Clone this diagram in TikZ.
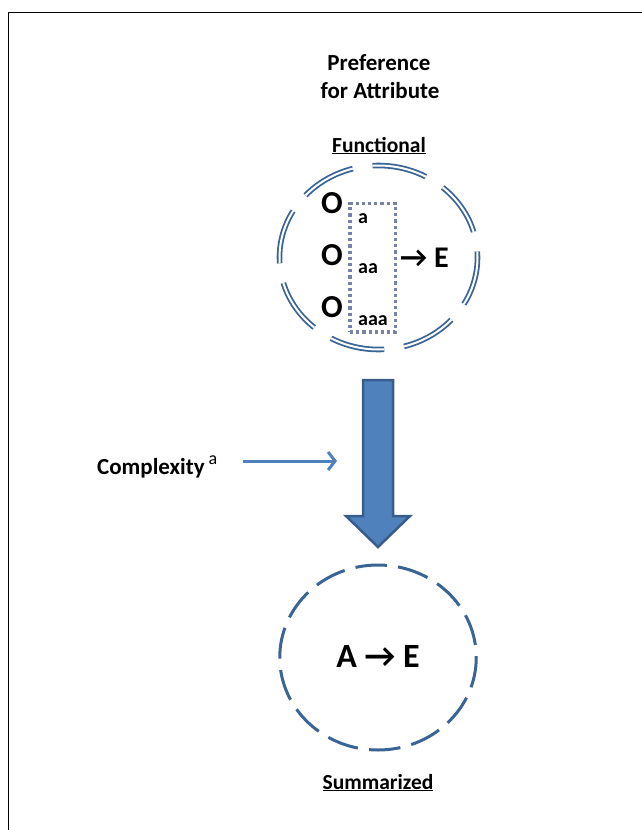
\documentclass[tikz,border=0pt]{standalone}
\usepackage{fontspec}
\setmainfont{Carlito}
\usetikzlibrary{positioning, arrows.meta, shapes.geometric}

\definecolor{ringblue}{HTML}{3B6496}
\definecolor{fillblue}{HTML}{4F81BD}
\definecolor{edgeblue}{HTML}{385D8A}
\definecolor{dotgray}{HTML}{7683A6}

\begin{document}
\begin{tikzpicture}[x=1pt, y=-1pt,
    txt/.style={font=\fontsize{23}{27}\selectfont\bfseries, inner sep=0pt},
    headtxt/.style={font=\fontsize{21.5}{25}\selectfont\bfseries, inner sep=0pt},
    bigtxt/.style={font=\fontsize{30}{34}\selectfont\bfseries, inner sep=0pt},
    otxt/.style={font=\fontsize{32}{36}\selectfont\bfseries, inner sep=0pt},
    subtxt/.style={font=\fontsize{20}{24}\selectfont\bfseries, inner sep=0pt},
    ring/.style={ellipse, inner sep=0pt, draw=ringblue},
    feed/.style={-{Straight Barb[length=7pt, width=18pt]}, line width=3pt, fillblue}
]
    \useasboundingbox (0,0) rectangle (642,830);

    % page frame
    \draw[line width=1.2pt] (8.5,830) -- (8.5,12.5) -- (642,12.5);

    % === Title ===
    \node[txt, anchor=base] (pref) at (379,70) {Preference};
    \node[txt, anchor=base] (attr) at (380,98) {for Attribute};

    % === Functional ring ===
    \node[headtxt, anchor=base] (funclbl) at (379,152) {\underline{Functional}};
    \node[ring, double=white, double distance=2pt, line width=1.8pt,
          minimum width=198pt, minimum height=184pt,
          dash pattern=on 55pt off 20pt, dash phase=49pt] (func) at (378.5,257.5) {};

    % outcomes grouped by the dotted box
    \node[draw=dotgray, line width=3.2pt, dash pattern=on 3.2pt off 3pt,
          minimum width=45.5pt, minimum height=128.5pt, inner sep=0pt] (grp) at (372.75,267.75) {};
    \node[otxt, anchor=base west] (o1) at (321,213.5) {O};
    \node[otxt, anchor=base west] (o2) at (321,265.5) {O};
    \node[otxt, anchor=base west] (o3) at (321,317.5) {O};
    \node[subtxt, anchor=base west] (s1) at (358,223) {a};
    \node[subtxt, anchor=base west] (s2) at (358,273) {aa};
    \node[subtxt, anchor=base west] (s3) at (358,325) {aaa};
    \node[bigtxt, anchor=base west] (fe) at (400,267) {→ E};

    % === Transition ===
    \draw[fill=fillblue, draw=edgeblue, line width=2.5pt, line join=miter]
        (363,380) -- (393,380) -- (393,516) -- (410,516) -- (378,547)
        -- (346,516) -- (363,516) -- cycle;

    \node[txt, anchor=base west] (cplx) at (97,474)
        {Complexity\hspace{4pt}\raisebox{10pt}{\fontsize{18}{20}\selectfont\mdseries a}};
    \coordinate (cplxtail) at (243,461);
    \coordinate (cplxhead) at (337,461);
    \draw[feed] (cplxtail) -- (cplxhead);

    % === Summarized ring ===
    \node[ring, line width=3pt, minimum width=196.5pt, minimum height=185pt,
          dash pattern=on 31.5pt off 11.3pt, dash phase=30.2pt] (summ) at (378,657.5) {};
    \node[font=\fontsize{34}{38}\selectfont\bfseries, inner sep=0pt, anchor=base] (ae) at (378,667) {A → E};
    \node[headtxt, anchor=base] (summlbl) at (378,789) {\underline{Summarized}};
\end{tikzpicture}
\end{document}
